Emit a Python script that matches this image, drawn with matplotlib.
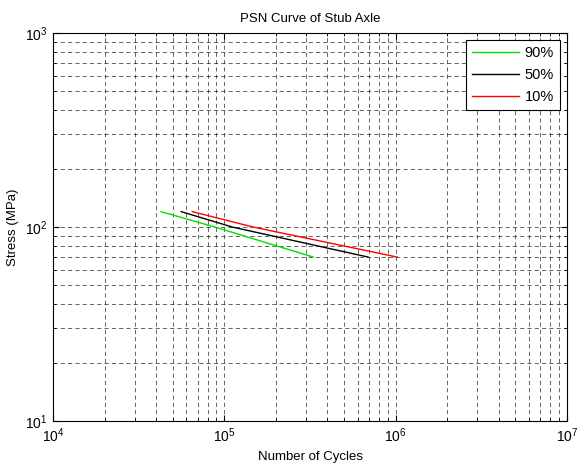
import matplotlib
matplotlib.use("Agg")
import matplotlib.pyplot as plt
from matplotlib.ticker import LogLocator, NullFormatter

plt.rcParams['font.family'] = ['Liberation Sans', 'DejaVu Sans']
plt.rcParams['mathtext.fontset'] = 'custom'
plt.rcParams['mathtext.rm'] = 'Liberation Sans'
plt.rcParams['mathtext.it'] = 'Liberation Sans'

labels = ['90%', '50%', '10%']
colors = ['#00e000', '#000000', '#ff0000']
cycles_90 = [4.27e4, 8.8e4, 3.3e5]
stress_90 = [120, 100, 70]
cycles_50 = [5.6e4, 1.11e5, 6.9e5]
stress_50 = [120, 100, 70]
cycles_10 = [6.5e4, 1.47e5, 1.02e6]
stress_10 = [120, 100, 70]

fig = plt.figure(figsize=(5.77, 4.70), dpi=100)
ax = fig.add_axes([53/577, 49/470, 514/577, 388/470])

for c, s, lab, col in zip([cycles_90, cycles_50, cycles_10],
                          [stress_90, stress_50, stress_10], labels, colors):
    ax.plot(c, s, color=col, lw=1.0, label=lab)

ax.set_xscale('log')
ax.set_yscale('log')
ax.set_xlim(1e4, 1e7)
ax.set_ylim(10, 1000)
ax.xaxis.set_major_locator(LogLocator(base=10, numticks=10))
ax.yaxis.set_major_locator(LogLocator(base=10, numticks=10))
ax.xaxis.set_minor_locator(LogLocator(base=10, subs=range(2, 10), numticks=20))
ax.yaxis.set_minor_locator(LogLocator(base=10, subs=range(2, 10), numticks=20))
ax.xaxis.set_minor_formatter(NullFormatter())
ax.yaxis.set_minor_formatter(NullFormatter())

ax.grid(True, which='both', color='black', linestyle=(0, (6, 4.5)), linewidth=0.5, alpha=0.85)
ax.tick_params(which='both', direction='in', top=True, right=True, labelsize=10, colors='black')
ax.tick_params(which='major', length=4, pad=4)
ax.tick_params(which='minor', length=2.5)
for sp in ax.spines.values():
    sp.set_linewidth(0.8)

ax.set_title('PSN Curve of Stub Axle', fontsize=9.5, pad=8)
ax.set_xlabel('Number of Cycles', fontsize=9.5)
ax.set_ylabel('Stress (MPa)', fontsize=9.5)

leg = ax.legend(loc='upper right', fontsize=10.5, fancybox=False, framealpha=1,
                edgecolor='black', handlelength=3.2, borderaxespad=0.5,
                labelspacing=0.55, handletextpad=0.4, borderpad=0.4)
leg.get_frame().set_linewidth(0.8)

fig.savefig('out.png', dpi=100)
